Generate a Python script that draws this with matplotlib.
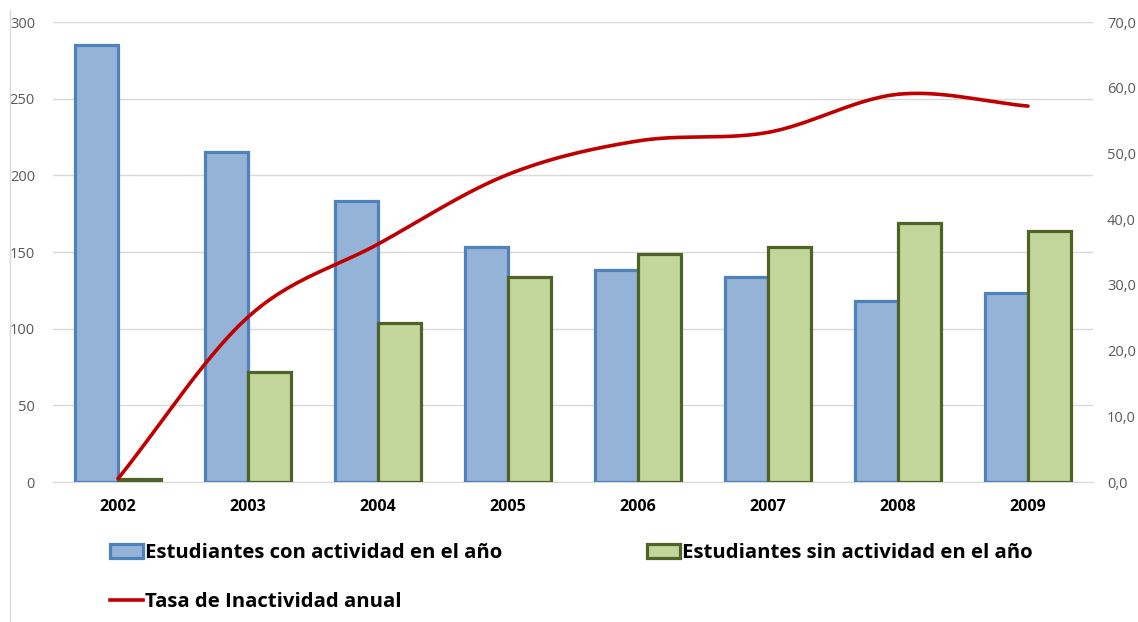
import matplotlib.pyplot as plt
import numpy as np
from matplotlib.patches import Patch
from matplotlib.lines import Line2D
from matplotlib.ticker import FuncFormatter

years = ['2002', '2003', '2004', '2005', '2006', '2007', '2008', '2009']
con_actividad = [285, 215, 183, 153, 138, 134, 118, 123]
sin_actividad = [2, 72, 104, 134, 149, 153, 169, 164]
tasa = [0.5, 25.1, 36.2, 46.8, 51.9, 53.2, 59.0, 57.2]

blue_face = '#95B3D7'
blue_edge = '#4F81BD'
green_face = '#C3D69B'
green_edge = '#4F6228'
red = '#C00000'

plt.rcParams['font.family'] = ['Open Sans', 'DejaVu Sans']


def smooth(xs, ys, n=30):
    # catmull-rom curve through the points, like excel's smoothed line
    px = np.array(xs, dtype=float)
    py = np.array(ys, dtype=float)
    px = np.concatenate([[2 * px[0] - px[1]], px, [2 * px[-1] - px[-2]]])
    py = np.concatenate([[2 * py[0] - py[1]], py, [2 * py[-1] - py[-2]]])
    outx, outy = [], []
    for i in range(1, len(px) - 2):
        t = np.linspace(0, 1, n)
        for arr, out in ((px, outx), (py, outy)):
            p0, p1, p2, p3 = arr[i - 1], arr[i], arr[i + 1], arr[i + 2]
            out.extend(0.5 * ((2 * p1) + (-p0 + p2) * t
                              + (2 * p0 - 5 * p1 + 4 * p2 - p3) * t ** 2
                              + (-p0 + 3 * p1 - 3 * p2 + p3) * t ** 3))
    return np.array(outx), np.array(outy)


fig = plt.figure(figsize=(11.38, 6.22), dpi=100)
ax = fig.add_axes([53 / 1138, 1 - 482 / 622, 1040 / 1138, 460 / 622])

x = np.arange(len(years))
w = 0.33
ax.bar(x - w / 2, con_actividad, w, color=blue_face, edgecolor=blue_edge, linewidth=2.3, zorder=3)
ax.bar(x + w / 2, sin_actividad, w, color=green_face, edgecolor=green_edge, linewidth=2.3, zorder=3)

ax.set_xlim(-0.5, len(years) - 0.5)
ax.set_ylim(0, 300)
ax.set_yticks(range(0, 301, 50))
ax.set_xticks(x)
ax.set_xticklabels(years, fontsize=11.5, fontweight='bold', color='black')
ax.tick_params(axis='x', length=0, pad=12)
ax.tick_params(axis='y', length=0, pad=13, labelsize=10.5, labelcolor='#595959')
ax.grid(axis='y', color='#D9D9D9', linewidth=1, zorder=0)
for s in ['top', 'left', 'right']:
    ax.spines[s].set_visible(False)
ax.spines['bottom'].set_color('#D9D9D9')

ax2 = ax.twinx()
sx, sy = smooth(x, tasa)
ax2.plot(sx, sy, color=red, linewidth=2.6, solid_capstyle='round', zorder=4)
ax2.set_ylim(0, 70)
ax2.set_yticks(range(0, 71, 10))
ax2.yaxis.set_major_formatter(FuncFormatter(lambda v, p: ('%.1f' % v).replace('.', ',')))
ax2.tick_params(axis='y', length=0, pad=10, labelsize=10.5, labelcolor='#595959')
for s in ['top', 'left', 'right', 'bottom']:
    ax2.spines[s].set_visible(False)

# chart border line on the left
fig.add_artist(Line2D([10 / 1138, 10 / 1138], [0, 1 - 10 / 622], color='#D9D9D9', linewidth=1))

handles = [
    Patch(facecolor=blue_face, edgecolor=blue_edge, linewidth=2.3),
    Line2D([0], [0], color=red, linewidth=2.6),
    Patch(facecolor=green_face, edgecolor=green_edge, linewidth=2.3),
]
labels = ['Estudiantes con actividad en el año', 'Tasa de Inactividad anual',
          'Estudiantes sin actividad en el año']
fig.legend(handles, labels, ncol=2, loc='upper left', bbox_to_anchor=(92 / 1138, 1 - 525 / 622),
           frameon=False, prop={'weight': 'bold', 'size': 14.7}, handlelength=1.6, handleheight=0.7,
           handletextpad=0.1, columnspacing=7.1, labelspacing=1.4)

fig.savefig('out.png', dpi=100)
